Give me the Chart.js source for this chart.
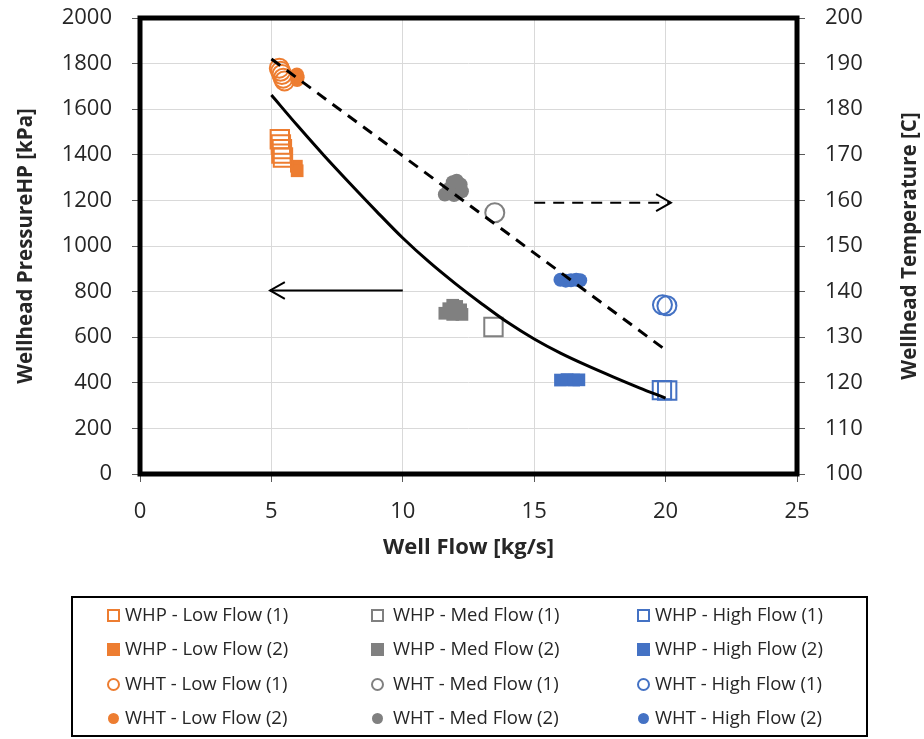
<!DOCTYPE html>
<html>
<head>
<meta charset="utf-8">
<script src="https://cdn.jsdelivr.net/npm/chart.js@4.4.1/dist/chart.umd.min.js"></script>
<style>
  html, body { margin: 0; padding: 0; background: #fff; }
  #wrap { position: relative; width: 924px; height: 739px; }
  #legend {
    position: absolute; left: 71px; top: 596px; width: 793px; height: 137px;
    border: 2px solid #000; font-family: "Open Sans", sans-serif; font-size: 18.5px; color: #262626;
  }
  .item { position: absolute; white-space: nowrap; line-height: 22px; }
  .mk { position: absolute; box-sizing: border-box; }
</style>
</head>
<body>
<div id="wrap">
  <canvas id="chart" width="924" height="739"></canvas>
  <div id="legend"></div>
</div>
<script>
  // axis ticks
  const flowTicks = [0, 5, 10, 15, 20, 25];
  const pressureTicks = [0, 200, 400, 600, 800, 1000, 1200, 1400, 1600, 1800, 2000];
  const tempTicks = [100, 110, 120, 130, 140, 150, 160, 170, 180, 190, 200];

  // model lines
  const modelFlow = [5, 6, 7, 8, 9, 10, 11, 12, 13, 14, 15, 16, 17, 18, 19, 20];
  const modelWHP = [1662, 1527, 1397, 1273, 1152, 1035, 930, 835, 747, 664, 592, 530, 476, 426, 378, 333];
  const modelTFlow = [5, 20];
  const modelWHT = [191, 127.2];

  // arrows pointing at each axis
  const arrowPFlow = [10, 4.95];
  const arrowP = [805, 805];
  const arrowTFlow = [15, 20.2];
  const arrowT = [159.5, 159.5];

  // measured points: [flow, value]
  const lowWHP1 = [[5.32, 1468], [5.36, 1445], [5.4, 1425], [5.38, 1405], [5.44, 1388]];
  const lowWHP2 = [[5.95, 1350], [5.98, 1330]];
  const lowWHT1 = [[5.3, 189], [5.35, 188.3], [5.4, 187.6], [5.45, 186.8], [5.5, 186.2]];
  const lowWHT2 = [[5.97, 187.6], [6.0, 187], [5.98, 186.4]];

  const medWHP1 = [[13.45, 645]];
  const medWHP2 = [[11.6, 705], [11.75, 725], [11.9, 740], [12.05, 735], [12.2, 720], [12.25, 700], [11.9, 700]];
  const medWHT1 = [[13.5, 157.3]];
  const medWHT2 = [[11.6, 161.3], [11.75, 162.5], [11.9, 164], [12.05, 164.3], [12.2, 163.5], [12.25, 162], [11.95, 161.2]];

  const highWHP1 = [[19.86, 368], [20.06, 366]];
  const highWHP2 = [[16.0, 412], [16.25, 414], [16.5, 412], [16.7, 413]];
  const highWHT1 = [[19.88, 137.1], [20.05, 136.9]];
  const highWHT2 = [[16.0, 142.6], [16.2, 142.4], [16.4, 142.5], [16.6, 142.6], [16.75, 142.5]];

  const ORANGE = '#ED7D31', GRAY = '#808080', BLUE = '#4472C4';
  const FONT = '"Open Sans", sans-serif';
  const TEXT = '#262626';

  function xy(arr) { return arr.map(p => ({ x: p[0], y: p[1] })); }
  function zip(xs, ys) { return xs.map((x, i) => ({ x: x, y: ys[i] })); }

  // kind: 'open-square', 'square', 'open-circle', 'circle'
  const legendInfo = [];
  function series(label, pts, color, kind, axis) {
    const square = kind.indexOf('square') >= 0;
    const open = kind.indexOf('open') === 0;
    const r = square ? (open ? 13 : 9) : (open ? 9.5 : 7);
    legendInfo.push({ label: label, color: color, kind: kind });
    return {
      label: label,
      data: xy(pts),
      yAxisID: axis,
      pointStyle: square ? 'rect' : 'circle',
      pointRadius: r,
      pointBorderWidth: open ? 2 : 0,
      pointBorderColor: color,
      pointBackgroundColor: open ? 'rgba(0,0,0,0)' : color,
      showLine: false,
      order: 2
    };
  }

  const lines = [
    { label: 'model WHP', data: zip(modelFlow, modelWHP), yAxisID: 'y', showLine: true, pointRadius: 0,
      borderColor: '#000', borderWidth: 3, cubicInterpolationMode: 'monotone', order: 0 },
    { label: 'model WHT', data: zip(modelTFlow, modelWHT), yAxisID: 'y2', showLine: true, pointRadius: 0,
      borderColor: '#000', borderWidth: 3, borderDash: [11, 8], order: 0 },
    { label: 'arrow P', data: zip(arrowPFlow, arrowP), yAxisID: 'y', showLine: true, pointRadius: 0,
      borderColor: '#000', borderWidth: 2, order: 0, arrowHead: true },
    { label: 'arrow T', data: zip(arrowTFlow, arrowT), yAxisID: 'y2', showLine: true, pointRadius: 0,
      borderColor: '#000', borderWidth: 2, borderDash: [11, 8], order: 0, arrowHead: true }
  ];

  const points = [
    series('WHP - Low Flow (1)', lowWHP1, ORANGE, 'open-square', 'y'),
    series('WHP - Low Flow (2)', lowWHP2, ORANGE, 'square', 'y'),
    series('WHT - Low Flow (1)', lowWHT1, ORANGE, 'open-circle', 'y2'),
    series('WHT - Low Flow (2)', lowWHT2, ORANGE, 'circle', 'y2'),
    series('WHP - Med Flow (1)', medWHP1, GRAY, 'open-square', 'y'),
    series('WHP - Med Flow (2)', medWHP2, GRAY, 'square', 'y'),
    series('WHT - Med Flow (1)', medWHT1, GRAY, 'open-circle', 'y2'),
    series('WHT - Med Flow (2)', medWHT2, GRAY, 'circle', 'y2'),
    series('WHP - High Flow (1)', highWHP1, BLUE, 'open-square', 'y'),
    series('WHP - High Flow (2)', highWHP2, BLUE, 'square', 'y'),
    series('WHT - High Flow (1)', highWHT1, BLUE, 'open-circle', 'y2'),
    series('WHT - High Flow (2)', highWHT2, BLUE, 'circle', 'y2')
  ];

  const extras = {
    id: 'extras',
    afterDatasetsDraw(chart) {
      const ctx = chart.ctx;
      chart.data.datasets.forEach((ds, i) => {
        if (!ds.arrowHead) return;
        const pts = chart.getDatasetMeta(i).data;
        const a = pts[pts.length - 2], b = pts[pts.length - 1];
        const ang = Math.atan2(b.y - a.y, b.x - a.x);
        const len = 17, spread = 0.52;
        ctx.save();
        ctx.strokeStyle = '#000';
        ctx.lineWidth = 2;
        ctx.setLineDash([]);
        ctx.beginPath();
        ctx.moveTo(b.x - len * Math.cos(ang - spread), b.y - len * Math.sin(ang - spread));
        ctx.lineTo(b.x, b.y);
        ctx.lineTo(b.x - len * Math.cos(ang + spread), b.y - len * Math.sin(ang + spread));
        ctx.stroke();
        ctx.restore();
      });
    },
    afterDraw(chart) {
      const ctx = chart.ctx, area = chart.chartArea;
      ctx.save();
      ctx.strokeStyle = '#000';
      ctx.lineWidth = 5;
      ctx.strokeRect(area.left, area.top, area.right - area.left, area.bottom - area.top);
      // right axis title, reading bottom to top like the left one
      ctx.translate(910, (area.top + area.bottom) / 2);
      ctx.rotate(-Math.PI / 2);
      ctx.font = 'bold 20.5px ' + FONT;
      ctx.fillStyle = TEXT;
      ctx.textAlign = 'center';
      ctx.textBaseline = 'middle';
      ctx.fillText('Wellhead Temperature [C]', 0, 0);
      ctx.restore();
    }
  };

  const tickFont = { family: FONT, size: 22 };
  const titleFont = { family: FONT, size: 20.5, weight: 'bold' };

  function noPadV(s, w) { s.width = w; s.paddingTop = 0; s.paddingBottom = 0; }

  new Chart(document.getElementById('chart'), {
    type: 'scatter',
    data: { datasets: lines.concat(points) },
    options: {
      responsive: false,
      animation: false,
      events: [],
      layout: { padding: { top: 18, left: 0, right: 0, bottom: 0 } },
      plugins: { legend: { display: false }, tooltip: { enabled: false } },
      scales: {
        x: {
          type: 'linear', min: 0, max: 25,
          afterBuildTicks: s => { s.ticks = flowTicks.map(v => ({ value: v })); },
          afterFit: s => { s.height = 265; s.paddingLeft = 0; s.paddingRight = 0; },
          ticks: { font: tickFont, color: TEXT, padding: 17, callback: v => String(v) },
          grid: { color: '#D9D9D9', lineWidth: 1, tickLength: 8, tickColor: '#595959' },
          border: { display: false },
          title: { display: true, text: 'Well Flow [kg/s]', font: { family: FONT, size: 22, weight: 'bold' },
                   color: TEXT, padding: { top: 0, bottom: 178 } }
        },
        y: {
          type: 'linear', position: 'left', min: 0, max: 2000,
          afterBuildTicks: s => { s.ticks = pressureTicks.map(v => ({ value: v })); },
          afterFit: s => noPadV(s, 140),
          ticks: { font: tickFont, color: TEXT, padding: 20, callback: v => String(v) },
          grid: { color: '#D9D9D9', lineWidth: 1, tickLength: 8, tickColor: '#595959' },
          border: { display: false },
          title: { display: true, text: 'Wellhead PressureHP [kPa]', font: titleFont, color: TEXT, padding: { top: 14, bottom: 0 } }
        },
        y2: {
          type: 'linear', position: 'right', min: 100, max: 200,
          afterBuildTicks: s => { s.ticks = tempTicks.map(v => ({ value: v })); },
          afterFit: s => noPadV(s, 127),
          ticks: { font: tickFont, color: TEXT, padding: 20, callback: v => String(v) },
          grid: { drawOnChartArea: false, tickLength: 8, tickColor: '#595959' },
          border: { display: false }
        }
      }
    },
    plugins: [extras]
  });

  // legend: three columns (low, med, high), four rows, like the original
  const legendColX = [40, 304, 570];
  const legendTextX = [52, 320, 582];
  const legendRowY = [17, 51, 86, 120];
  const legend = document.getElementById('legend');
  legendInfo.forEach((item, i) => {
    const col = Math.floor(i / 4), row = i % 4;
    const mk = document.createElement('span');
    mk.className = 'mk';
    const open = item.kind.indexOf('open') === 0;
    const size = item.kind === 'circle' ? 11 : 13;
    mk.style.width = size + 'px';
    mk.style.height = size + 'px';
    mk.style.left = Math.round(legendColX[col] - size / 2) + 'px';
    mk.style.top = Math.round(legendRowY[row] - size / 2) + 'px';
    if (open) {
      mk.style.borderWidth = '2px';
      mk.style.borderStyle = 'solid';
      mk.style.borderColor = item.color;
    } else {
      mk.style.backgroundColor = item.color;
    }
    if (item.kind.indexOf('circle') >= 0) mk.style.borderRadius = '50%';
    legend.appendChild(mk);
    const t = document.createElement('span');
    t.className = 'item';
    t.textContent = item.label;
    t.style.left = legendTextX[col] + 'px';
    t.style.top = (legendRowY[row] - 12) + 'px';
    legend.appendChild(t);
  });
</script>
</body>
</html>
